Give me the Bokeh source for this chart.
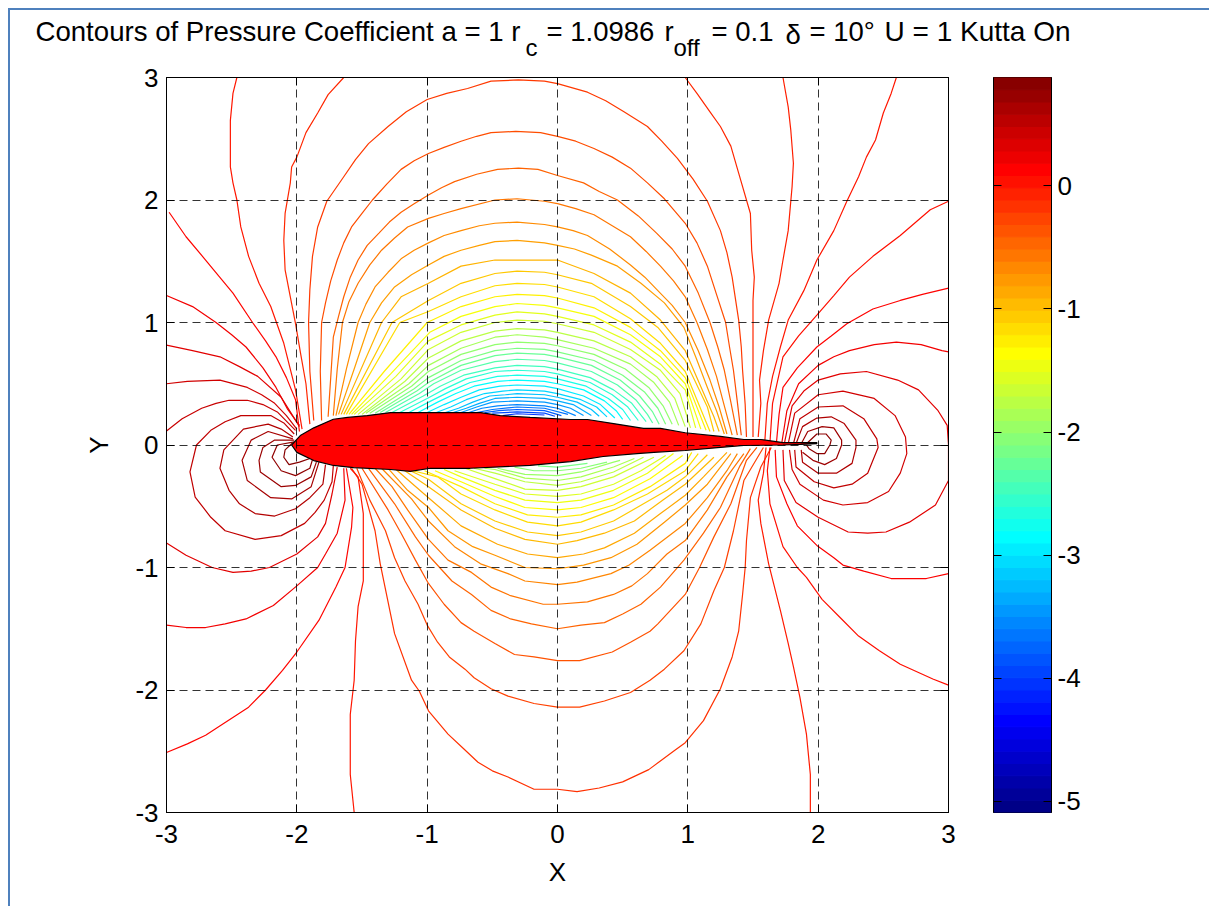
import numpy as np
from bokeh.embed import file_html
from bokeh.resources import INLINE
from bokeh.plotting import figure
from bokeh.layouts import row, column
from bokeh.core.properties import value
from bokeh.models import FixedTicker, LinearAxis, Range1d, ColumnDataSource

# ---- text ----
tick_values = [-3, -2, -1, 0, 1, 2, 3]
tick_labels = {-3: "-3", -2: "-2", -1: "-1", 0: "0", 1: "1", 2: "2", 3: "3"}
cbar_values = [-5, -4, -3, -2, -1, 0]
cbar_labels = {-5: "-5", -4: "-4", -3: "-3", -2: "-2", -1: "-1", 0: "0"}
title_text = ["Contours of Pressure Coefficient a = 1 r", "c", "= 1.0986", "r", "off", "= 0.1", "\u03b4", "= 10\u00b0", "U = 1 Kutta On"]
title_px = [35, 525, 546, 664, 673, 711, 785, 809, 884]
title_py = [31, 47, 31, 31, 47, 31, 34, 31, 31]
title_fs = ["27.6px", "24px", "27.5px", "27.5px", "24px", "27.5px", "27.5px", "27.5px", "28px"]
CB_LOW, CB_HIGH, CB_BANDS = -5.09, 0.88, 60

# ---- airfoil outline ----
foil_x = [-2.04, -1.97, -1.87, -1.72, -1.61, -1.46, -1.28, -0.59, -0.44, -0.21, 0.1, 0.23, 0.43, 0.66, 0.79, 0.98, 1.25, 1.43, 1.56, 1.73, 1.865, 1.99,
          1.99, 1.865, 1.73, 1.43, 1.25, 0.98, 0.74, 0.61, 0.35, 0.1, -0.21, -0.67, -0.975, -1.13, -1.28, -1.565, -1.72, -1.87, -2.0]
foil_y = [0.0, 0.08, 0.14, 0.21, 0.225, 0.24, 0.265, 0.265, 0.24, 0.225, 0.208, 0.208, 0.175, 0.135, 0.135, 0.1, 0.07, 0.045, 0.045, 0.02, 0.02, 0.02,
          0.012, 0.005, 0.0, -0.004, -0.02, -0.045, -0.06, -0.07, -0.094, -0.135, -0.167, -0.19, -0.19, -0.215, -0.2, -0.184, -0.167, -0.127, -0.06]

# ---- contours above the foil, outermost first ----
A01 = [(-1.87,.2),(-1.9,.6),(-1.91,1.0),(-1.9,1.27),(-1.88,1.54),(-1.84,1.78),(-1.77,1.99),(-1.64,2.19),(-1.55,2.33),(-1.45,2.46),(-1.3,2.6),(-1.16,2.72),(-1,2.82),(-.85,2.87),(-.69,2.91),(-.51,2.97),(-.3,2.98),(-.1,2.97),(0,2.95),(.23,2.88),(.37,2.81),(.51,2.72),(.69,2.6),(.8,2.48),(.92,2.34),(1.04,2.17),(1.15,1.99),(1.25,1.75),(1.3,1.57),(1.34,1.37),(1.39,1.02),(1.41,.8),(1.42,.61),(1.44,.33),(1.45,.065)]
A02 = [(-1.81,.2),(-1.82,.6),(-1.81,1),(-1.78,1.16),(-1.74,1.34),(-1.69,1.51),(-1.64,1.65),(-1.58,1.78),(-1.5,1.89),(-1.42,2),(-1.31,2.13),(-1.2,2.25),(-1.1,2.32),(-.99,2.38),(-.87,2.43),(-.74,2.48),(-.62,2.52),(-.51,2.55),(-.32,2.56),(-.13,2.55),(0,2.52),(.14,2.48),(.28,2.42),(.42,2.35),(.56,2.26),(.69,2.14),(.82,2.01),(.9,1.91),(.98,1.81),(1.07,1.65),(1.15,1.46),(1.22,1.23),(1.29,1),(1.32,.8),(1.35,.61),(1.38,.35),(1.41,.08)]
A03 = [(-1.76,.23),(-1.74,.55),(-1.72,.88),(-1.68,1.05),(-1.64,1.21),(-1.59,1.37),(-1.53,1.51),(-1.46,1.63),(-1.37,1.73),(-1.29,1.82),(-1.2,1.9),(-1.1,1.97),(-.99,2.04),(-.89,2.1),(-.79,2.15),(-.62,2.21),(-.46,2.25),(-.3,2.26),(-.15,2.25),(0,2.2),(.2,2.14),(.32,2.07),(.46,2),(.62,1.87),(.76,1.73),(.88,1.6),(.98,1.46),(1.08,1.24),(1.17,1),(1.23,.8),(1.28,.61),(1.33,.35),(1.38,.08)]
A04 = [(-1.72,.24),(-1.69,.62),(-1.65,1),(-1.6,1.17),(-1.53,1.32),(-1.44,1.47),(-1.35,1.59),(-1.25,1.69),(-1.15,1.78),(-.99,1.85),(-.87,1.89),(-.74,1.93),(-.48,2),(-.31,2.01),(-.1,1.99),(0,1.97),(.14,1.93),(.28,1.88),(.42,1.79),(.56,1.7),(.68,1.58),(.79,1.46),(.89,1.34),(.98,1.21),(1.07,1),(1.15,.78),(1.22,.56),(1.28,.32),(1.34,.08)]
A05 = [(-1.7,.24),(-1.62,.62),(-1.53,1),(-1.47,1.15),(-1.4,1.29),(-1.3,1.41),(-1.2,1.52),(-1.1,1.59),(-.99,1.65),(-.87,1.71),(-.74,1.75),(-.6,1.79),(-.48,1.81),(-.31,1.82),(-.1,1.8),(0,1.78),(.12,1.75),(.23,1.71),(.4,1.6),(.56,1.47),(.67,1.37),(.77,1.26),(.88,1.14),(.98,1),(1.08,.77),(1.17,.53),(1.24,.31),(1.3,.09)]
A06 = [(-1.68,.25),(-1.56,.62),(-1.44,1),(-1.35,1.16),(-1.25,1.29),(-1.12,1.39),(-.99,1.47),(-.87,1.54),(-.74,1.59),(-.6,1.63),(-.48,1.66),(-.31,1.67),(-.1,1.65),(0,1.63),(.13,1.6),(.26,1.55),(.46,1.46),(.64,1.32),(.82,1.16),(.97,.96),(1.06,.72),(1.15,.47),(1.22,.28),(1.28,.09)]
A07 = [(-1.66,.25),(-1.35,1.0),(-1.2,1.21),(-.99,1.32),(-.74,1.46),(-.48,1.51),(-.31,1.51),(-.1,1.51),(0,1.51),(.28,1.4),(.56,1.24),(.79,1.02),(.98,.77),(1.2,.23),(1.24,.11)]
A08 = [(-1.64,.25),(-1.27,1.0),(-.99,1.18),(-.74,1.32),(-.48,1.4),(-.31,1.42),(-.1,1.41),(0,1.39),(.26,1.32),(.56,1.13),(.77,.96),(.98,.69),(1.15,.31),(1.2,.11)]
A09 = [(-1.62,.25),(-1.21,1.0),(-.99,1.09),(-.74,1.21),(-.48,1.3),(-.31,1.32),(-.1,1.31),(0,1.29),(.28,1.21),(.56,1.03),(.79,.83),(.98,.6),(1.17,.11)]
A10 = [(-1.6,.25),(-1.33,.6),(-1.0,1.0),(-.74,1.13),(-.48,1.21),(-.31,1.23),(-.1,1.22),(0,1.2),(.28,1.12),(.56,.96),(.79,.77),(.98,.55),(1.14,.12)]
A11 = [(-1.58,.25),(-1.28,.58),(-.98,.92),(-.74,1.05),(-.48,1.13),(-.31,1.155),(-.1,1.14),(0,1.12),(.28,1.05),(.56,.9),(.79,.72),(.98,.5),(1.1,.13)]
A12 = [(-1.56,.25),(-1.24,.56),(-.99,.85),(-.74,.98),(-.48,1.06),(-.31,1.087),(-.1,1.07),(0,1.05),(.28,.98),(.56,.84),(.79,.66),(.98,.45),(1.06,.14)]
A13 = [(-1.53,.25),(-1.2,.54),(-.99,.78),(-.74,.92),(-.48,1.0),(-.31,1.02),(-.1,1.01),(0,.99),(.28,.92),(.56,.78),(.79,.61),(.94,.42),(1.02,.14)]
A14 = [(-1.5,.25),(-1.17,.52),(-.99,.71),(-.74,.85),(-.48,.93),(-.31,.95),(-.1,.94),(0,.92),(.28,.85),(.56,.72),(.76,.56),(.9,.38),(.98,.15)]
A15 = [(-1.47,.26),(-1.14,.5),(-.99,.65),(-.74,.79),(-.48,.88),(-.31,.9),(-.1,.88),(0,.86),(.28,.79),(.56,.66),(.74,.51),(.86,.35),(.93,.16)]
A16 = [(-1.44,.26),(-1.12,.48),(-.99,.6),(-.74,.74),(-.48,.82),(-.31,.84),(-.1,.83),(0,.81),(.28,.74),(.52,.62),(.7,.47),(.81,.32),(.88,.17)]
A17 = [(-1.4,.26),(-1.1,.46),(-.99,.55),(-.74,.69),(-.48,.77),(-.31,.79),(-.1,.78),(0,.76),(.28,.69),(.5,.57),(.67,.43),(.77,.3),(.83,.17)]
A18 = [(-1.36,.265),(-1.08,.44),(-.99,.51),(-.74,.65),(-.48,.73),(-.31,.75),(-.1,.74),(0,.72),(.26,.65),(.48,.53),(.63,.4),(.73,.27),(.78,.17)]
A19 = [(-1.32,.265),(-1.06,.42),(-.95,.5),(-.74,.61),(-.48,.68),(-.31,.7),(-.1,.69),(0,.67),(.26,.6),(.46,.49),(.6,.37),(.69,.25),(.73,.18)]
A20 = [(-1.27,.265),(-1.03,.4),(-.9,.48),(-.72,.57),(-.48,.63),(-.31,.65),(-.1,.64),(0,.62),(.25,.55),(.43,.45),(.57,.34),(.68,.19)]
A21 = [(-1.21,.265),(-1,.38),(-.86,.46),(-.7,.54),(-.48,.6),(-.31,.61),(-.1,.6),(0,.58),(.25,.51),(.42,.41),(.54,.31),(.62,.2)]
A22 = [(-1.14,.265),(-.97,.36),(-.82,.44),(-.67,.51),(-.46,.56),(-.31,.57),(-.1,.56),(0,.54),(.22,.48),(.39,.38),(.5,.29),(.56,.2)]
A23 = [(-1.07,.265),(-.92,.35),(-.78,.42),(-.64,.48),(-.46,.52),(-.31,.53),(-.1,.52),(0,.5),(.2,.45),(.36,.36),(.45,.28),(.5,.21)]
A24 = [(-1,.265),(-.87,.33),(-.74,.39),(-.6,.45),(-.44,.48),(-.31,.49),(-.1,.48),(0,.46),(.2,.4),(.33,.33),(.44,.22)]
A25 = [(-.93,.265),(-.82,.31),(-.7,.37),(-.56,.42),(-.42,.44),(-.31,.45),(-.1,.44),(0,.42),(.18,.37),(.3,.31),(.38,.23)]
A26 = [(-.86,.265),(-.76,.3),(-.65,.35),(-.52,.4),(-.4,.41),(-.31,.42),(-.1,.41),(0,.39),(.15,.35),(.26,.29),(.32,.235)]
A27 = [(-.8,.265),(-.7,.3),(-.6,.34),(-.48,.38),(-.31,.39),(-.1,.38),(0,.36),(.12,.33),(.26,.24)]
A28 = [(-.74,.265),(-.62,.31),(-.5,.35),(-.31,.36),(-.1,.35),(0,.33),(.1,.3),(.2,.24)]
A29 = [(-.68,.265),(-.58,.3),(-.46,.32),(-.31,.33),(-.1,.32),(0,.3),(.14,.24)]
A30 = [(-.62,.265),(-.5,.29),(-.31,.31),(-.1,.3),(.08,.25)]
A31 = [(-.56,.265),(-.45,.28),(-.31,.29),(-.1,.28),(.03,.24)]
A32 = [(-.5,.26),(-.31,.27),(-.1,.26),(-.02,.235)]
A33 = [(-.42,.24),(-.31,.255),(-.1,.245)]
upper_arches = [A01,A02,A03,A04,A05,A06,A07,A08,A09,A10,A11,A12,A13,A14,A15,A16,A17,A18,A19,A20,A21,A22,A23,A24,A25,A26,A27,A28,A29,A30,A31,A32,A33]
upper_levels = [-0.2,-0.32,-0.44,-0.56,-0.68,-0.8,-0.92,-1.04,-1.16,-1.28,-1.4,-1.52,-1.64,-1.76,-1.88,-2.0,-2.12,-2.24,-2.36,-2.48,-2.6,-2.72,-2.84,-2.96,-3.08,-3.2,-3.32,-3.44,-3.56,-3.68,-3.8,-3.92,-4.04]

# ---- contours below the foil ----
L01 = [(-1.58,-.19),(-1.5,-.32),(-1.4,-.7),(-1.36,-.97),(-1.25,-1.54),(-1.12,-1.92),(-1.06,-2.01),(-.99,-2.17),(-.84,-2.36),(-.72,-2.48),(-.61,-2.59),(-.5,-2.66),(-.38,-2.71),(-.18,-2.81),(0,-2.81),(.15,-2.83),(.32,-2.8),(.5,-2.75),(.7,-2.65),(.89,-2.5),(.98,-2.43),(1.12,-2.25),(1.25,-1.99),(1.34,-1.73),(1.39,-1.52),(1.42,-1.22),(1.44,-1),(1.45,-.78),(1.48,-.43),(1.56,-.18),(1.64,-.02)]
L02 = [(-1.54,-.19),(-1.44,-.45),(-1.32,-.7),(-1.25,-.92),(-1.17,-1.11),(-1.07,-1.3),(-1,-1.47),(-.92,-1.61),(-.83,-1.73),(-.71,-1.83),(-.64,-1.9),(-.51,-1.99),(-.38,-2.05),(-.18,-2.11),(0,-2.14),(.17,-2.14),(.36,-2.09),(.56,-2.02),(.71,-1.92),(.82,-1.83),(.97,-1.68),(1.1,-1.46),(1.2,-1.19),(1.28,-1),(1.35,-.7),(1.43,-.29),(1.58,-.02)]
L03 = [(-1.5,-.19),(-1.3,-.53),(-1.2,-.72),(-1.09,-.94),(-.99,-1.13),(-.87,-1.3),(-.74,-1.45),(-.64,-1.52),(-.48,-1.62),(-.33,-1.71),(-.18,-1.73),(0,-1.76),(.17,-1.76),(.42,-1.69),(.56,-1.61),(.71,-1.52),(.77,-1.46),(.98,-1.22),(1.09,-1),(1.2,-.75),(1.33,-.48),(1.45,-.125),(1.53,-.02)]
L04 = [(-1.45,-.19),(-1.25,-.48),(-1.09,-.75),(-.99,-.9),(-.81,-1.11),(-.66,-1.22),(-.51,-1.35),(-.36,-1.42),(-.2,-1.46),(0,-1.5),(.18,-1.47),(.36,-1.45),(.5,-1.38),(.64,-1.3),(.79,-1.16),(.97,-.94),(1.12,-.72),(1.25,-.51),(1.4,-.17),(1.48,-.03)]
L05 = [(-1.4,-.19),(-1.27,-.34),(-1.15,-.53),(-.99,-.77),(-.84,-.94),(-.66,-1.04),(-.51,-1.16),(-.36,-1.23),(-.11,-1.3),(0,-1.3),(.23,-1.28),(.43,-1.22),(.57,-1.15),(.69,-1.05),(.84,-.89),(.98,-.78),(1.15,-.53),(1.3,-.26),(1.43,-.07)]
L06 = [(-1.35,-.19),(-1.12,-.44),(-.99,-.62),(-.79,-.83),(-.59,-.97),(-.38,-1.05),(-.25,-1.11),(0,-1.14),(.15,-1.12),(.41,-1.05),(.55,-.98),(.71,-.86),(.98,-.64),(1.15,-.43),(1.3,-.21),(1.38,-.07)]
L07 = [(-1.3,-.19),(-1.15,-.37),(-.99,-.51),(-.84,-.7),(-.65,-.83),(-.48,-.9),(-.25,-1),(0,-1.01),(.2,-.98),(.41,-.92),(.61,-.81),(.82,-.63),(.98,-.49),(1.15,-.32),(1.33,-.07)]
L08 = [(-1.25,-.19),(-.99,-.43),(-.74,-.66),(-.46,-.81),(-.23,-.89),(0,-.92),(.2,-.89),(.36,-.84),(.59,-.72),(.79,-.56),(.98,-.41),(1.12,-.26),(1.3,-.06)]
L09 = [(-1.2,-.19),(-.99,-.34),(-.74,-.53),(-.48,-.68),(-.25,-.77),(0,-.81),(.15,-.78),(.36,-.72),(.59,-.62),(.82,-.44),(.98,-.32),(1.2,-.1)]
L10 = [(-1.15,-.2),(-.99,-.28),(-.74,-.48),(-.48,-.62),(-.23,-.71),(0,-.74),(.18,-.71),(.43,-.62),(.66,-.48),(.84,-.37),(.98,-.26),(1.15,-.08)]
L11 = [(-1.11,-.21),(-.92,-.26),(-.74,-.4),(-.48,-.53),(-.23,-.63),(0,-.66),(.18,-.63),(.43,-.53),(.69,-.4),(.98,-.21),(1.08,-.07)]
L12 = [(-1.02,-.21),(-.74,-.34),(-.48,-.48),(-.23,-.57),(0,-.59),(.18,-.57),(.43,-.49),(.71,-.34),(.98,-.15),(1.03,-.06)]
L13 = [(-.94,-.21),(-.74,-.3),(-.48,-.42),(-.25,-.51),(0,-.53),(.18,-.51),(.43,-.43),(.71,-.275),(.96,-.085)]
L14 = [(-.87,-.2),(-.74,-.26),(-.48,-.37),(-.25,-.45),(0,-.47),(.18,-.45),(.43,-.37),(.69,-.23),(.89,-.07)]
L15 = [(-.79,-.21),(-.48,-.32),(-.25,-.4),(0,-.42),(.18,-.4),(.43,-.32),(.64,-.21),(.83,-.085)]
L16 = [(-.71,-.19),(-.48,-.275),(-.25,-.36),(0,-.37),(.18,-.34),(.43,-.26),(.74,-.1)]
L17 = [(-.64,-.19),(-.48,-.23),(-.25,-.3),(0,-.33),(.18,-.3),(.43,-.22),(.66,-.1)]
L18 = [(-.56,-.19),(-.48,-.2),(-.25,-.27),(0,-.29),(.18,-.26),(.43,-.18),(.59,-.11)]
L19 = [(-.46,-.19),(-.25,-.24),(0,-.25),(.18,-.22),(.43,-.14),(.48,-.125)]
L20 = [(-.33,-.18),(-.18,-.21),(0,-.21),(.18,-.19),(.38,-.14)]
L21 = [(-.15,-.17),(0,-.18),(.23,-.15)]
lower_arches = [L01,L02,L03,L04,L05,L06,L07,L08,L09,L10,L11,L12,L13,L14,L15,L16,L17,L18,L19,L20,L21]
lower_levels = [-0.15,-0.25,-0.35,-0.45,-0.55,-0.65,-0.75,-0.85,-0.95,-1.05,-1.15,-1.25,-1.35,-1.45,-1.55,-1.65,-1.75,-1.85,-1.95,-2.05,-2.15]

# ---- contours around the leading edge ----
LE_f = [(-2.46,3),(-2.49,2.87),(-2.51,2.65),(-2.51,2.27),(-2.49,2.14),(-2.46,2),(-2.43,1.78),(-2.37,1.54),(-2.29,1.32),(-2.2,1.13),(-2.1,.83),(-2.01,.45),(-1.96,.13)]
LE_g = [(-1.64,3),(-1.76,2.86),(-1.84,2.71),(-1.93,2.55),(-2,2.35),(-2.04,2.27),(-2.05,2.14),(-2.09,1.89),(-2.1,1.67),(-2.09,1.43),(-2.05,1.21),(-2.01,.99),(-1.97,.74),(-1.93,.5),(-1.9,.17)]
LE_e = [(-2.98,1.9),(-2.85,1.7),(-2.7,1.51),(-2.6,1.38),(-2.49,1.24),(-2.34,1),(-2.24,.85),(-2.16,.72),(-2.08,.55),(-2.01,.37),(-1.98,.11)]
LE_d = [(-3,1.22),(-2.8,1.13),(-2.62,1),(-2.5,.9),(-2.39,.8),(-2.26,.63),(-2.16,.47),(-2.07,.29),(-1.98,.16)]
LE_c = [(-3,.815),(-2.8,.77),(-2.59,.72),(-2.44,.64),(-2.3,.56),(-2.12,.39),(-2.05,.27),(-1.98,.15)]
LE_b = [(-3,.5),(-2.84,.52),(-2.59,.53),(-2.38,.47),(-2.27,.41),(-2.17,.34),(-2.08,.24),(-2,.13)]
LE_a = [(-3,.115),(-2.88,.215),(-2.73,.3),(-2.62,.34),(-2.52,.365),(-2.38,.365),(-2.26,.33),(-2.15,.27),(-2.01,.12)]
LE_F = [(-1.72,-.17),(-1.73,-.3),(-1.79,-.45),(-1.86,-.55),(-1.94,-.64),(-2.12,-.74),(-2.32,-.77),(-2.55,-.7),(-2.66,-.59),(-2.78,-.425),(-2.82,-.22),(-2.77,0),(-2.66,.12),(-2.55,.19),(-2.43,.24),(-2.2,.24),(-2.1,.18),(-2.02,.09)]
LE_E = [(-1.78,-.16),(-1.8,-.32),(-1.9,-.43),(-2.01,-.52),(-2.17,-.58),(-2.32,-.56),(-2.44,-.48),(-2.52,-.37),(-2.59,-.19),(-2.56,-.04),(-2.41,.13),(-2.22,.17),(-2.12,.13),(-2.03,.065)]
LE_D = [(-1.83,-.14),(-1.89,-.34),(-2.04,-.44),(-2.2,-.43),(-2.38,-.29),(-2.42,-.125),(-2.35,.04),(-2.22,.11),(-2.03,.05)]
LE_C = [(-1.85,-.14),(-1.89,-.26),(-2.01,-.33),(-2.12,-.34),(-2.28,-.22),(-2.29,-.125),(-2.26,-.02),(-2.17,.04),(-2.02,.04)]
LE_B = [(-1.88,-.12),(-1.9,-.19),(-2.01,-.25),(-2.12,-.21),(-2.19,-.1),(-2.15,0),(-2.02,.025)]
LE_A = [(-1.9,-.11),(-1.98,-.14),(-2.06,-.16),(-2.1,-.1),(-2.09,-.04),(-2.03,.02)]
LE_a2 = [(-3,-.8),(-2.85,-.9),(-2.65,-1),(-2.49,-1.04),(-2.35,-1.03),(-2.21,-1),(-2,-.89),(-1.84,-.75),(-1.78,-.64),(-1.73,-.4),(-1.69,-.18)]
LE_b2 = [(-3,-1.47),(-2.85,-1.49),(-2.7,-1.49),(-2.55,-1.46),(-2.39,-1.42),(-2.18,-1.31),(-2,-1.15),(-1.84,-1),(-1.78,-.89),(-1.69,-.72),(-1.63,-.45),(-1.64,-.19)]
LE_c2 = [(-3,-2.51),(-2.84,-2.44),(-2.7,-2.37),(-2.6,-2.3),(-2.37,-2.14),(-2.24,-2),(-2.11,-1.84),(-2,-1.69),(-1.83,-1.43),(-1.7,-1.16),(-1.63,-1),(-1.58,-.67),(-1.57,-.51),(-1.62,-.19)]
LE_g2 = [(-1.56,-3),(-1.59,-2.69),(-1.59,-2.2),(-1.56,-1.92),(-1.55,-1.6),(-1.53,-1.32),(-1.49,-1.11),(-1.49,-.56),(-1.53,-.26),(-1.59,-.19)]
le_lines = [LE_g,LE_f,LE_e,LE_d,LE_c,LE_b,LE_a,LE_F,LE_E,LE_D,LE_C,LE_B,LE_A,LE_a2,LE_b2,LE_c2,LE_g2]
le_levels = [-0.1,0.0,0.1,0.2,0.3,0.4,0.45,0.5,0.58,0.65,0.72,0.78,0.84,0.3,0.2,0.1,0.0]

# ---- contours around the trailing edge ----
T00 = [(1.91,.01),(1.99,.09),(2.06,.09),(2.1,.04),(2.09,0),(2.05,-.07),(1.99,-.07),(1.93,-.03),(1.91,0)]
T01 = [(1.87,.01),(1.92,.11),(2.03,.15),(2.12,.14),(2.18,.04),(2.18,0),(2.14,-.11),(2.05,-.16),(1.96,-.125),(1.88,-.06)]
T02 = [(1.83,.01),(1.88,.15),(1.99,.22),(2.1,.23),(2.2,.175),(2.29,.04),(2.29,-.02),(2.26,-.15),(2.14,-.23),(2,-.23),(1.88,-.14),(1.87,-.04)]
T03 = [(1.81,.01),(1.86,.215),(2,.31),(2.19,.32),(2.35,.215),(2.45,.05),(2.46,-.02),(2.38,-.23),(2.26,-.32),(2.12,-.35),(1.97,-.3),(1.83,-.18),(1.82,-.04)]
T04 = [(1.77,.01),(1.82,.26),(2,.41),(2.19,.44),(2.43,.38),(2.59,.24),(2.67,.065),(2.68,-.07),(2.63,-.23),(2.54,-.38),(2.38,-.47),(2.19,-.49),(2.04,-.45),(1.86,-.32),(1.8,-.2),(1.78,-.04)]
T05 = [(1.74,.01),(1.8,.32),(1.89,.44),(2,.53),(2.17,.58),(2.37,.6),(2.61,.53),(2.77,.45),(2.92,.28),(2.99,.16),(3,0),(3,-.29),(2.9,-.49),(2.7,-.63),(2.52,-.71),(2.38,-.72),(2.23,-.71),(2,-.59),(1.83,-.47),(1.74,-.29),(1.73,-.04)]
T06 = [(1.72,.01),(1.76,.28),(1.85,.5),(2,.65),(2.12,.72),(2.24,.77),(2.43,.82),(2.6,.84),(2.79,.82),(2.95,.77),(3,.76)]
T07 = [(1.68,.02),(1.7,.25),(1.73,.47),(1.84,.63),(1.99,.8),(2.1,.89),(2.22,.99),(2.42,1.11),(2.63,1.18),(2.8,1.23),(3,1.28)]
T08 = [(1.63,.02),(1.65,.34),(1.73,.72),(1.85,.89),(1.99,1.06),(2.12,1.22),(2.24,1.37),(2.42,1.54),(2.63,1.71),(2.86,1.92),(3,1.99)]
T09 = [(1.59,.02),(1.61,.34),(1.65,.56),(1.71,.8),(1.77,1.02),(1.89,1.26),(1.99,1.51),(2.12,1.75),(2.22,1.99),(2.31,2.19),(2.37,2.35),(2.44,2.49),(2.5,2.71),(2.56,2.87),(2.6,3)]
T10 = [(1.54,.065),(1.56,.34),(1.55,.53),(1.58,.77),(1.62,1.02),(1.7,1.32),(1.73,1.51),(1.77,1.75),(1.8,2.11),(1.81,2.3),(1.79,2.57),(1.77,2.76),(1.73,3)]
T11 = [(1.5,.065),(1.5,.61),(1.5,1.18),(1.51,1.37),(1.49,1.59),(1.48,1.89),(1.39,2.22),(1.33,2.44),(1.25,2.6),(1.17,2.72),(1.07,2.87),(.98,3)]
R06 = [(3,-1.05),(2.83,-1.09),(2.56,-1.09),(2.35,-1.03),(2.19,-.98),(2.12,-.92),(1.99,-.82),(1.84,-.66),(1.76,-.48),(1.68,-.26),(1.67,-.04)]
R07 = [(3,-1.96),(2.88,-1.91),(2.63,-1.79),(2.47,-1.68),(2.31,-1.56),(2.17,-1.41),(2.03,-1.26),(1.91,-1.08),(1.84,-1),(1.73,-.83),(1.63,-.48),(1.61,-.21),(1.63,-.02)]
R08 = [(1.94,-3),(1.94,-2.69),(1.91,-2.36),(1.86,-2.06),(1.81,-1.81),(1.77,-1.62),(1.71,-1.35),(1.62,-.97),(1.56,-.64),(1.54,-.45),(1.58,-.23),(1.6,-.02)]
te_lines = [T00,T01,T02,T03,T04,T05,T06,T07,T08,T09,T10,T11,R06,R07,R08]
te_levels = [0.8,0.7,0.6,0.5,0.4,0.3,0.2,0.12,0.05,0.0,-0.05,-0.1,0.15,0.05,-0.02]


def jet(t):
    r = np.clip(min(4 * t - 1.5, -4 * t + 4.5), 0, 1)
    g = np.clip(min(4 * t - 0.5, -4 * t + 3.5), 0, 1)
    b = np.clip(min(4 * t + 0.5, -4 * t + 2.5), 0, 1)
    return "#%02x%02x%02x" % (int(r * 255), int(g * 255), int(b * 255))


def level_color(v):
    return jet((v - CB_LOW) / (CB_HIGH - CB_LOW))


FONT = "Liberation Sans"
FS = "26px"
all_lines = upper_arches + lower_arches + le_lines + te_lines
all_levels = upper_levels + lower_levels + le_levels + te_levels

# title strip across the whole page; its axes are window pixels
tf = figure(width=1199, height=50, x_range=Range1d(10, 1209), y_range=Range1d(60, 10),
            output_backend="svg", toolbar_location=None, x_axis_location=None, y_axis_location=None,
            min_border=0, min_border_left=0, min_border_right=0, min_border_top=0, min_border_bottom=0)
tf.grid.visible = False
tf.outline_line_color = None
tf.text(x="x", y="y", text="t", text_font_size="fs", text_font=value(FONT), text_color="black",
        text_baseline="middle", text_align="left",
        source=ColumnDataSource(dict(x=title_px, y=title_py, t=title_text, fs=title_fs)))

p = figure(width=958, height=846, x_range=Range1d(-3, 3), y_range=Range1d(-3, 3),
           output_backend="svg", toolbar_location=None,
           min_border_left=156, min_border_right=20, min_border_top=17, min_border_bottom=94,
           x_axis_label="X", y_axis_label="Y")
p.multi_line([[q[0] for q in l] for l in all_lines], [[q[1] for q in l] for l in all_lines],
             line_color=[level_color(v) for v in all_levels], line_width=1.2)
p.patch(foil_x, foil_y, fill_color="#ff0000", line_color="black", line_width=1.2)

for ax in (p.xaxis[0], p.yaxis[0]):
    ax.ticker = FixedTicker(ticks=tick_values)
    ax.major_label_overrides = tick_labels
    ax.major_label_text_font = FONT
    ax.major_label_text_font_size = FS
    ax.major_label_text_color = "black"
    ax.axis_label_text_font = FONT
    ax.axis_label_text_font_size = FS
    ax.axis_label_text_font_style = "normal"
    ax.axis_label_text_color = "black"
    ax.major_tick_in = 8
    ax.major_tick_out = 0
    ax.minor_tick_line_color = None
    ax.axis_line_color = "black"
    ax.major_tick_line_color = "black"
p.xaxis[0].major_label_standoff = 12
p.yaxis[0].major_label_standoff = 8
p.xaxis[0].axis_label_standoff = 11
p.yaxis[0].axis_label_standoff = 18

for side in ("above", "right"):
    extra = LinearAxis(ticker=FixedTicker(ticks=tick_values), major_label_text_font_size="0px",
                       major_label_standoff=0, major_tick_in=8, major_tick_out=0, minor_tick_line_color=None,
                       major_label_text_color=None, axis_line_color="black")
    p.add_layout(extra, side)

p.grid.level = "overlay"
p.xgrid.ticker = FixedTicker(ticks=tick_values)
p.ygrid.ticker = FixedTicker(ticks=tick_values)
p.grid.grid_line_color = "black"
p.grid.grid_line_dash = "8 5"
p.grid.grid_line_width = 1
p.grid.grid_line_alpha = 0.8
p.outline_line_color = "black"

# colour bar as its own small axes
edges = np.linspace(CB_LOW, CB_HIGH, CB_BANDS + 1)
band_colors = [level_color((a + b) / 2) for a, b in zip(edges[:-1], edges[1:])]
c = figure(width=241, height=846, x_range=Range1d(0, 1), y_range=Range1d(CB_LOW, CB_HIGH),
           output_backend="svg", toolbar_location=None,
           min_border_left=25, min_border_right=158, min_border_top=17, min_border_bottom=92,
           x_axis_location=None, y_axis_location=None)
c.quad(left=0, right=1, bottom=edges[:-1], top=edges[1:], line_color=band_colors, line_width=1,
       fill_color=band_colors)
c.grid.visible = False
c.outline_line_color = "black"
for side, lbl in (("left", False), ("right", True)):
    ax = LinearAxis(ticker=FixedTicker(ticks=cbar_values), major_tick_in=8, major_tick_out=0,
                    minor_tick_line_color=None, axis_line_color="black",
                    major_label_overrides=cbar_labels,
                    major_label_text_font=FONT, major_label_text_font_size=FS if lbl else "0px",
                    major_label_text_color="black" if lbl else None, major_label_standoff=6)
    c.add_layout(ax, side)

page = column(tf, row(p, c, spacing=0), spacing=0, margin=(8, 0, 0, 8),
              styles={"border-left": "2px solid #4f81bd", "border-top": "2px solid #4f81bd"})
open("out.html", "w").write(file_html(page, INLINE))
